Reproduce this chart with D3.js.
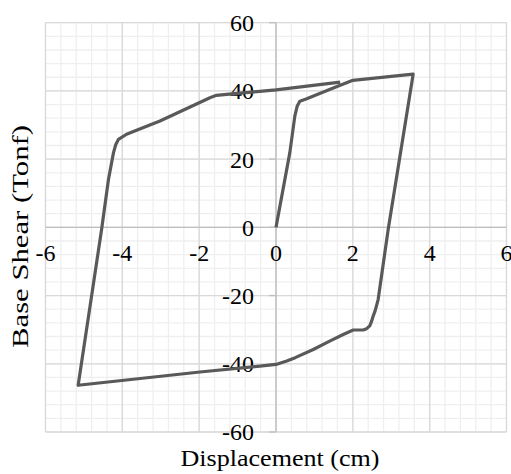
<!DOCTYPE html>
<html>
<head>
<meta charset="utf-8">
<script src="https://cdn.jsdelivr.net/npm/d3@7"></script>
<style>
  body { margin: 0; background: #fff; }
  text { font-family: "Liberation Serif", "Times New Roman", serif; fill: #000; }
</style>
</head>
<body>
<div id="chart"></div>
<script>
// Hysteresis curve (cm, Tonf)
const displacement = [0, 0.36, 0.49, 0.55, 0.62, 0.8, 1.41, 2.0, 3.57,
  2.92, 2.66, 2.58, 2.53, 2.48, 2.44, 2.36, 2.27, 2.01, 1.75, 1.41, 0.97, 0.5, 0.28, 0, -0.42, -1.98, -5.15,
  -4.54, -4.36, -4.23, -4.17, -4.1, -3.89, -3.58, -3.02, -1.72, -1.55, -1.28, 0, 1.67];
const baseShear = [0, 21.9, 32.6, 35.5, 37.0, 37.7, 40.5, 43.1, 44.9,
  -0.6, -21.1, -24.5, -26.0, -27.8, -28.9, -29.7, -30.1, -30.1, -31.4, -33.3, -35.8, -38.2, -39.2, -40.2, -40.7, -42.4, -46.3,
  -0.6, 14.1, 21.9, 24.3, 25.8, 27.3, 28.7, 31.2, 38.0, 38.7, 39.0, 40.3, 42.6];

const xTicks = [-6, -4, -2, 0, 2, 4, 6];
const yTicks = [-60, -40, -20, 0, 20, 40, 60];

const width = 511, height = 474;
const plotLeft = 45.5, plotRight = 506.5, plotTop = 22.7, plotBottom = 432;

const svg = d3.select("#chart").append("svg")
  .attr("width", width)
  .attr("height", height);

const x = d3.scaleLinear().domain([-6, 6]).range([plotLeft, plotRight]);
const y = d3.scaleLinear().domain([-60, 60]).range([plotBottom, plotTop]);

// minor grid
const minorX = d3.range(-6, 6.001, 0.4);
const minorY = d3.range(-60, 60.001, 4);
svg.append("g").selectAll("line").data(minorX).join("line")
  .attr("x1", d => x(d)).attr("x2", d => x(d))
  .attr("y1", plotTop).attr("y2", plotBottom)
  .attr("stroke", "#efefef").attr("stroke-width", 1.3);
svg.append("g").selectAll("line").data(minorY).join("line")
  .attr("x1", plotLeft).attr("x2", plotRight)
  .attr("y1", d => y(d)).attr("y2", d => y(d))
  .attr("stroke", "#efefef").attr("stroke-width", 1.3);

// major grid
svg.append("g").selectAll("line").data(xTicks).join("line")
  .attr("x1", d => x(d)).attr("x2", d => x(d))
  .attr("y1", plotTop).attr("y2", plotBottom)
  .attr("stroke", "#d9d9d9").attr("stroke-width", 1.3);
svg.append("g").selectAll("line").data(yTicks).join("line")
  .attr("x1", plotLeft).attr("x2", plotRight)
  .attr("y1", d => y(d)).attr("y2", d => y(d))
  .attr("stroke", "#d9d9d9").attr("stroke-width", 1.3);

// axes through zero
svg.append("line")
  .attr("x1", x(0)).attr("x2", x(0)).attr("y1", plotTop).attr("y2", plotBottom)
  .attr("stroke", "#bfbfbf").attr("stroke-width", 1.3);
svg.append("line")
  .attr("x1", plotLeft).attr("x2", plotRight).attr("y1", y(0)).attr("y2", y(0))
  .attr("stroke", "#bfbfbf").attr("stroke-width", 1.3);
svg.append("g").selectAll("line").data(yTicks).join("line")
  .attr("x1", x(0) - 7).attr("x2", x(0))
  .attr("y1", d => y(d)).attr("y2", d => y(d))
  .attr("stroke", "#bfbfbf").attr("stroke-width", 1.3);

// tick labels
svg.append("g").selectAll("text").data(yTicks).join("text")
  .attr("x", x(0) - 22)
  .attr("y", d => y(d))
  .attr("dy", "0.35em")
  .attr("text-anchor", "end")
  .style("font-size", "24px")
  .text(d => d);
svg.append("g").selectAll("text").data(xTicks).join("text")
  .attr("x", d => x(d))
  .attr("y", y(0) + 34)
  .attr("text-anchor", "middle")
  .style("font-size", "24px")
  .text(d => d);

// curve
const pts = displacement.map((d, i) => [d, baseShear[i]]);
const line = d3.line()
  .x(d => x(d[0]))
  .y(d => y(d[1]));
svg.append("path")
  .datum(pts)
  .attr("d", line)
  .attr("fill", "none")
  .attr("stroke", "#595959")
  .attr("stroke-width", 3.2)
  .attr("stroke-linejoin", "round");

// axis titles
svg.append("text")
  .attr("x", 280)
  .attr("y", 466)
  .attr("text-anchor", "middle")
  .attr("textLength", 199)
  .attr("lengthAdjust", "spacingAndGlyphs")
  .style("font-size", "23px")
  .text("Displacement (cm)");
svg.append("text")
  .attr("transform", "translate(28,236.5) rotate(-90)")
  .attr("text-anchor", "middle")
  .attr("textLength", 223)
  .attr("lengthAdjust", "spacingAndGlyphs")
  .style("font-size", "23px")
  .text("Base Shear (Tonf)");
</script>
</body>
</html>
